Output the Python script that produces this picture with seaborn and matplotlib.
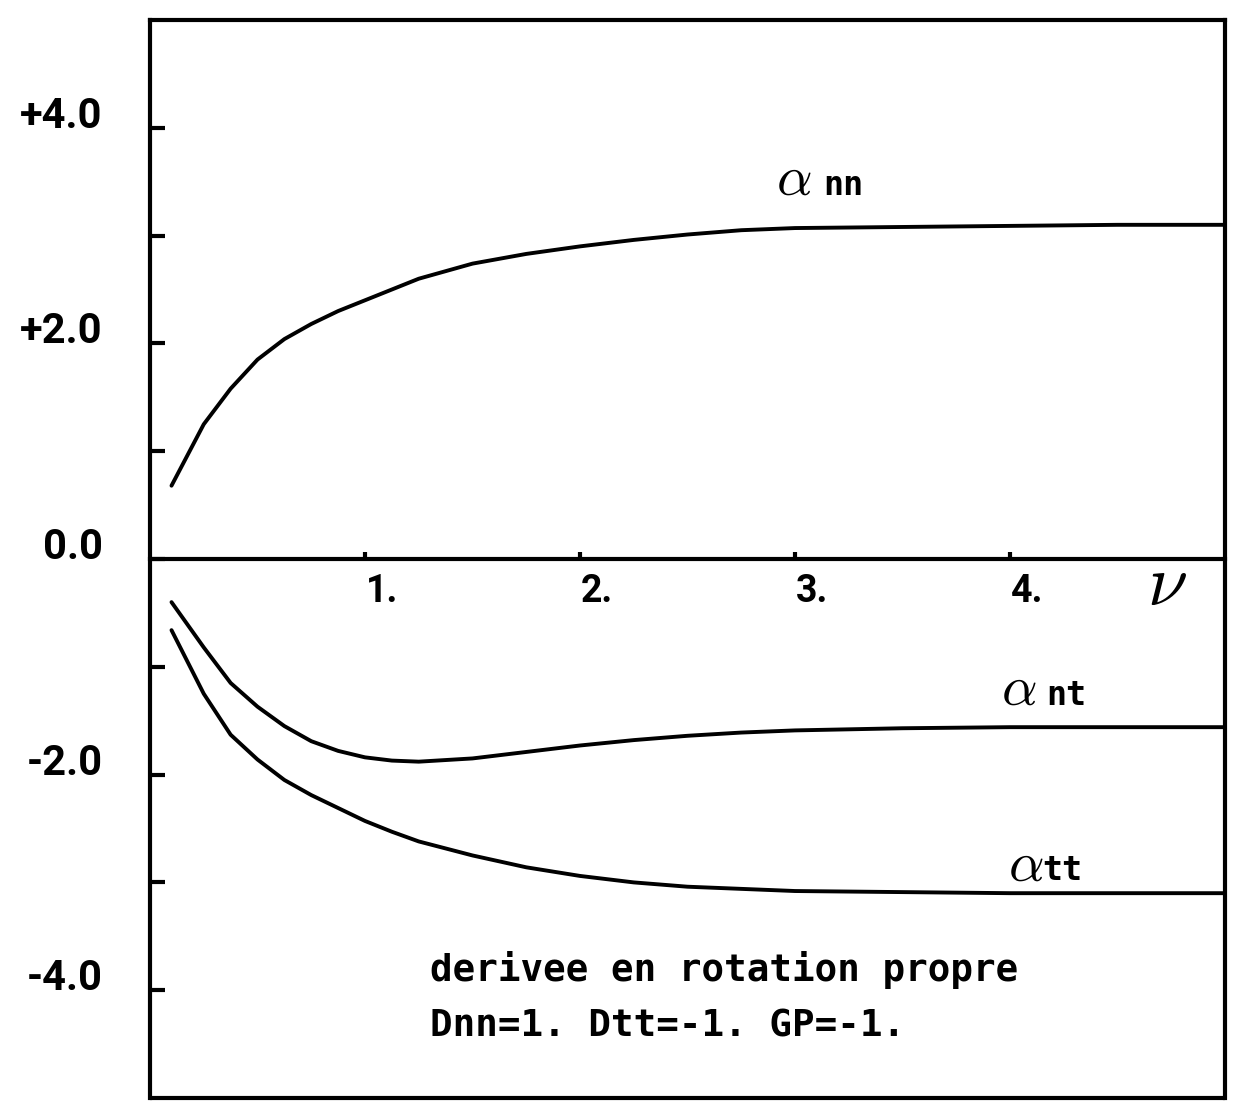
import matplotlib
matplotlib.use("Agg")
import matplotlib.pyplot as plt
import matplotlib.transforms as mtransforms
import pandas as pd
import seaborn as sns

# gamma values at which the three derivative components were evaluated
gamma = [0.1, 0.25, 0.375, 0.5, 0.625, 0.75, 0.875, 1.0, 1.125, 1.25,
         1.5, 1.75, 2.0, 2.25, 2.5, 2.75, 3.0, 3.5, 4.0, 4.5, 5.0]

alpha_nn = [0.68, 1.25, 1.58, 1.85, 2.04, 2.18, 2.30, 2.40, 2.50, 2.60,
            2.74, 2.83, 2.90, 2.96, 3.01, 3.05, 3.07, 3.08, 3.09, 3.10, 3.10]
alpha_nt = [-0.40, -0.82, -1.15, -1.37, -1.55, -1.69, -1.78, -1.84, -1.87, -1.88,
            -1.85, -1.79, -1.73, -1.68, -1.64, -1.61, -1.59, -1.57, -1.56, -1.56, -1.56]
alpha_tt = [-0.66, -1.25, -1.63, -1.86, -2.05, -2.19, -2.31, -2.43, -2.53, -2.62,
            -2.75, -2.86, -2.94, -3.00, -3.04, -3.06, -3.08, -3.09, -3.10, -3.10, -3.10]

components = ["nn", "nt", "tt"]

x_ticks = [1, 2, 3, 4]
x_tick_labels = ["1.", "2.", "3.", "4."]
y_ticks = [-4, -3, -2, -1, 0, 1, 2, 3, 4]
y_tick_labels = ["-4.0", "", "-2.0", "", "0.0", "", "+2.0", "", "+4.0"]

caption_lines = ["derivee en rotation propre", "Dnn=1. Dtt=-1. GP=-1."]

df = pd.DataFrame({
    "gamma": gamma * 3,
    "alpha": alpha_nn + alpha_nt + alpha_tt,
    "component": [c for c in components for _ in gamma],
})

sns.set_style("white")
plt.rcParams["font.family"] = ["Roboto", "DejaVu Sans"]
plt.rcParams["mathtext.fontset"] = "cm"
plt.rcParams["text.color"] = "black"

W, H = 1237, 1102
fig = plt.figure(figsize=(W / 100, H / 100), dpi=100)
ax = fig.add_axes([150 / W, 1 - 1098 / H, 1075 / W, 1078 / H])

sns.lineplot(data=df, x="gamma", y="alpha", hue="component",
             palette={c: "black" for c in components},
             estimator=None, sort=False, linewidth=2.8, legend=False, ax=ax)

ax.set_xlim(0, 5)
ax.set_ylim(-5, 5)
ax.set_xlabel("")
ax.set_ylabel("")

for spine in ax.spines.values():
    spine.set_visible(True)
    spine.set_color("black")
    spine.set_linewidth(3)
# the gamma axis runs along alpha = 0; close the frame at the bottom edge
ax.spines["bottom"].set_position(("data", 0))
ax.axhline(-5, color="black", linewidth=3, clip_on=False)

ax.set_xticks(x_ticks, x_tick_labels)
ax.set_yticks(y_ticks, y_tick_labels)
ax.tick_params(axis="x", bottom=True, top=False, direction="in", length=5,
               width=3, pad=10, labelsize=27, colors="black")
ax.tick_params(axis="y", left=True, right=False, direction="in", length=11,
               width=3, pad=34, labelsize=30, colors="black")
for lab in ax.get_xticklabels():
    lab.set_fontweight("bold")
    lab.set_transform(lab.get_transform() +
                      mtransforms.ScaledTranslation(0.17, 0, fig.dpi_scale_trans))
for lab in ax.get_yticklabels():
    lab.set_fontweight("bold")
    lab.set_transform(lab.get_transform() +
                      mtransforms.ScaledTranslation(0, 0.16, fig.dpi_scale_trans))

# curve labels: script alpha followed by the component indices, on one baseline
label_pos = {"nn": (2.91, 3.38, 3.13), "nt": (3.96, -1.355, 4.17), "tt": (3.99, -2.98, 4.15)}
for comp, (xa, yb, xs) in label_pos.items():
    ax.text(xa, yb, r"$\alpha$", fontsize=40, ha="left", va="baseline")
    ax.text(xs, yb, comp, family="DejaVu Sans Mono", fontweight="bold",
            fontsize=24, ha="left", va="baseline")

# axis variable
ax.text(4.73, -0.25, r"$\nu$", fontsize=52, ha="center", va="center")

for i, line in enumerate(caption_lines):
    ax.text(1.30, -3.81 - 0.53 * i, line, family="DejaVu Sans Mono",
            fontweight="bold", fontsize=27, ha="left", va="center")

fig.savefig("out.png", dpi=100, facecolor="white")
